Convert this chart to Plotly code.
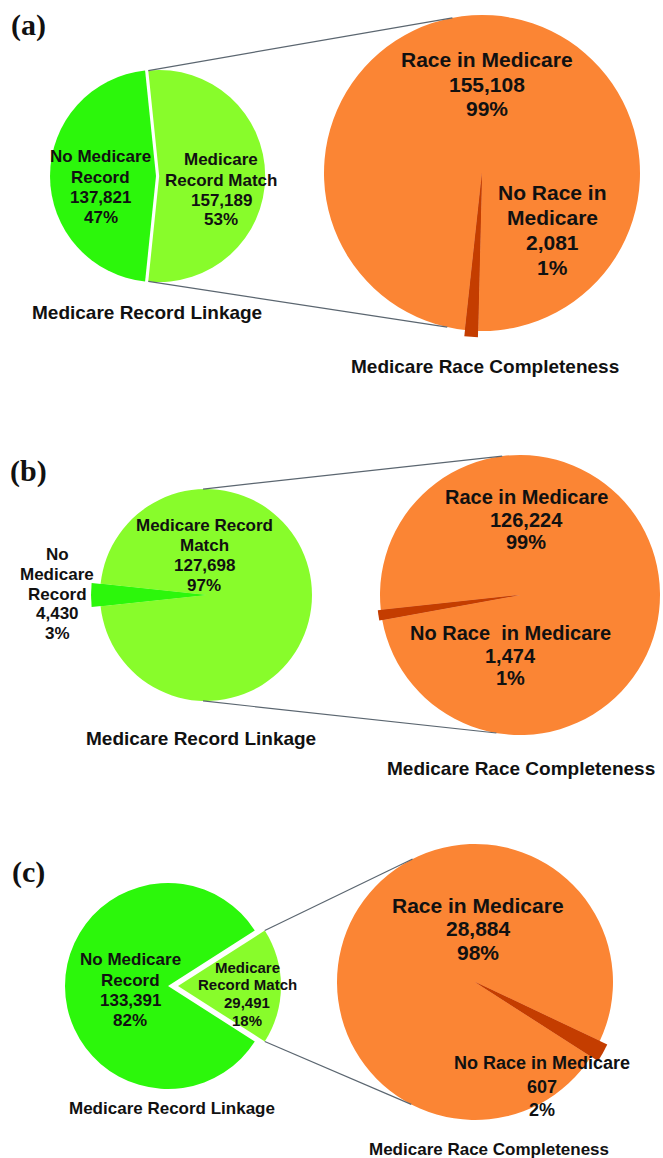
import math
import plotly.graph_objects as go

W, H = 663, 1158

# ---------------- data ----------------
linkage_a = [137821, 157189]          # No Medicare Record, Medicare Record Match
race_a = [155108, 2081]               # Race in Medicare, No Race in Medicare
linkage_b = [4430, 127698]
race_b = [126224, 1474]
linkage_c = [133391, 29491]
race_c = [28884, 607]

linkage_names = ["No Medicare Record", "Medicare Record Match"]
race_names = ["Race in Medicare", "No Race in Medicare"]
panel_tags = ["(a)", "(b)", "(c)"]
title_left = "Medicare Record Linkage"
title_right = "Medicare Race Completeness"

# label line-splitting of the category names, per panel
link_lines_a = [["No Medicare", "Record"], ["Medicare", "Record Match"]]
race_lines_a = [["Race in Medicare"], ["No Race in", "Medicare"]]
link_lines_b = [["No", "Medicare", "Record"], ["Medicare Record", "Match"]]
race_lines_b = [["Race in Medicare"], ["No Race\u00a0 in Medicare"]]
link_lines_c = [["No Medicare", "Record"], ["Medicare", "Record Match"]]
race_lines_c = [["Race in Medicare"], ["No Race in Medicare"]]

# ---------------- style ----------------
C_BRIGHT = "#2CF70B"
C_LIGHT = "#88FC2B"
C_ORANGE = "#FB8534"
C_DARK = "#C43D00"
LINE_C = "#5B6670"
SANS = "Liberation Sans, Arial, sans-serif"
SERIF = "Liberation Serif, Times New Roman, serif"

fig = go.Figure()


def px2paper(x, y):
    return x / W, 1 - y / H


def pt(cx, cy, r, ang):
    a = math.radians(ang)
    return cx + r * math.sin(a), cy - r * math.cos(a)


def rotation_for(values, idx, mid_angle):
    tot = sum(values)
    before = sum(values[:idx])
    return mid_angle - 360.0 * (before + values[idx] / 2.0) / tot


def domain(cx, cy, s):
    s = min(s, cx, W - cx, cy, H - cy)
    return dict(x=[(cx - s) / W, (cx + s) / W], y=[1 - (cy + s) / H, 1 - (cy - s) / H])


def add_pie(values, colors, cx, cy, R, idx, mid, pull=0.0):
    pulls = [0.0] * len(values)
    pulls[idx] = pull
    fig.add_trace(go.Pie(
        values=values, sort=False, direction="clockwise",
        rotation=rotation_for(values, idx, mid),
        marker=dict(colors=colors, line=dict(width=0)),
        pull=pulls, textinfo="none", hoverinfo="skip", showlegend=False,
        domain=domain(cx, cy, R * (1 + pull)),
    ))


def add_sliver(values, color, cx, cy, R, idx, mid, ext):
    cols = ["rgba(0,0,0,0)"] * len(values)
    cols[idx] = color
    fig.add_trace(go.Pie(
        values=values, sort=False, direction="clockwise",
        rotation=rotation_for(values, idx, mid),
        marker=dict(colors=cols, line=dict(width=0)),
        textinfo="none", hoverinfo="skip", showlegend=False,
        domain=domain(cx, cy, R * ext),
    ))


annotations = []
shapes = []


def text_block(lines, x, y0, dy, size, family=SANS):
    for i, t in enumerate(lines):
        xp, yp = px2paper(x, y0 + i * dy)
        annotations.append(dict(
            text="<b>%s</b>" % t, x=xp, y=yp, xref="paper", yref="paper",
            showarrow=False, xanchor="center", yanchor="middle",
            font=dict(family=family, size=size, color="#111111")))


def label(names, values, i, x, y0, dy, size):
    tot = sum(values)
    lines = list(names[i]) + ["{:,}".format(values[i]), "%d%%" % round(values[i] * 100.0 / tot)]
    text_block(lines, x, y0, dy, size)


def line(p1, p2):
    x1, y1 = px2paper(*p1)
    x2, y2 = px2paper(*p2)
    shapes.append(dict(type="line", xref="paper", yref="paper", x0=x1, y0=y1, x1=x2, y1=y2,
                       line=dict(color=LINE_C, width=1.2)))


def pulled_corners(values, idx, cx, cy, R, mid, pull):
    half = 180.0 * values[idx] / sum(values)
    scx, scy = pt(cx, cy, pull * R, mid)
    return pt(scx, scy, R, mid - half), pt(scx, scy, R, mid + half)


# ================= panel (a) =================
p = 0.03
add_pie(linkage_a, [C_BRIGHT, C_LIGHT], 156, 176, 106, 1, 90, pull=p)
add_pie(race_a, [C_ORANGE, C_DARK], 482, 173, 158, 1, 183.8)
add_sliver(race_a, C_DARK, 482, 173, 158, 1, 183.8, 1.04)
top_l, bot_l = pulled_corners(linkage_a, 1, 156, 176, 106, 90, p)
line(top_l, pt(482, 173, 158, 349.2))
line(bot_l, pt(482, 173, 158, 192.7))
label(link_lines_a, linkage_a, 0, 101, 157, 20.3, 17)
label(link_lines_a, linkage_a, 1, 221, 160, 20, 17)
label(race_lines_a, race_a, 0, 487, 60, 24, 21)
label(race_lines_a, race_a, 1, 552, 193, 24.7, 21)
text_block([title_left], 147, 312, 0, 19)
text_block([title_right], 485, 367, 0, 19)
text_block([panel_tags[0]], 28, 25, 0, 30, SERIF)

# ================= panel (b) =================
add_pie(linkage_b, [C_BRIGHT, C_LIGHT], 206, 595, 106, 0, 270)
add_sliver(linkage_b, C_BRIGHT, 206, 595, 106, 0, 270, 1.085)
add_pie(race_b, [C_ORANGE, C_DARK], 520, 595, 140, 1, 261.8)
add_sliver(race_b, C_DARK, 520, 595, 140, 1, 261.8, 1.107)
line(pt(206, 595, 106, 358.4), pt(520, 595, 140, 352.7))
line(pt(206, 595, 106, 181.6), pt(520, 595, 140, 189.7))
label(link_lines_b, linkage_b, 1, 204, 525, 20, 17)
label(link_lines_b, linkage_b, 0, 57, 555, 19.5, 17)
label(race_lines_b, race_b, 0, 526, 497, 22.5, 20)
label(race_lines_b, race_b, 1, 510, 633, 22.5, 20)
text_block([title_left], 201, 738, 0, 19)
text_block([title_right], 521, 768, 0, 19)
text_block([panel_tags[1]], 29, 471, 0, 30, SERIF)

# ================= panel (c) =================
p = 0.097
add_pie(linkage_c, [C_BRIGHT, C_LIGHT], 168, 986, 103, 1, 90, pull=p)
add_pie(race_c, [C_ORANGE, C_DARK], 475, 982, 138, 1, 119)
add_sliver(race_c, C_DARK, 475, 982, 138, 1, 119, 1.06)
top_l, bot_l = pulled_corners(linkage_c, 1, 168, 986, 103, 90, p)
line(top_l, pt(475, 982, 138, 333.1))
line(bot_l, pt(475, 982, 138, 207.5))
label(link_lines_c, linkage_c, 0, 130, 960, 20, 17)
label(link_lines_c, linkage_c, 1, 247, 967, 17.7, 15)
label(race_lines_c, race_c, 0, 478, 905, 23.5, 21)
label(race_lines_c, race_c, 1, 542, 1063, 23.5, 18)
text_block([title_left], 172, 1108, 0, 17)
text_block([title_right], 489, 1149, 0, 17)
text_block([panel_tags[2]], 28, 872, 0, 30, SERIF)

fig.update_layout(
    width=W, height=H, autosize=False,
    margin=dict(l=0, r=0, t=0, b=0, pad=0),
    paper_bgcolor="white", plot_bgcolor="white",
    annotations=annotations, shapes=shapes,
)

fig.write_html(
    "out.html",
    config={"displayModeBar": False, "staticPlot": True},
    post_script="document.body.style.margin='0';document.body.style.overflow='hidden';",
)
